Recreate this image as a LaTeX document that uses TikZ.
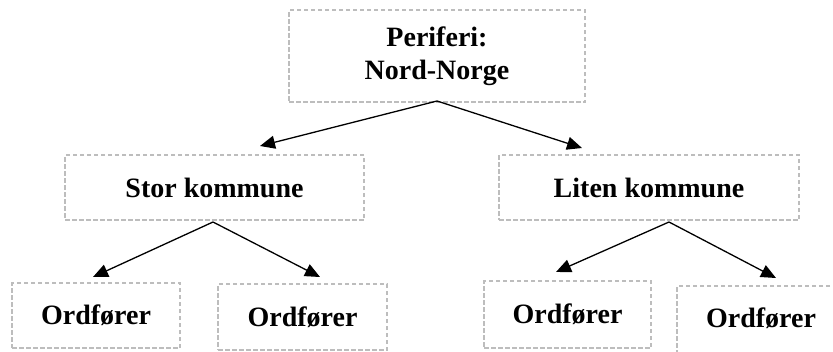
\documentclass[tikz,border=0pt]{standalone}
\usepackage{fontspec}
\setmainfont{Liberation Serif}
\usetikzlibrary{arrows.meta,calc}
\definecolor{boxgray}{HTML}{BDBDBD}
\begin{document}
\begin{tikzpicture}[x=1pt,y=-1pt,
  box/.style={draw=boxgray, line width=1.6pt, dash pattern=on 4.5pt off 2.5pt,
    rectangle, inner sep=0pt, align=center,
    font=\fontsize{28}{33}\selectfont\bfseries},
  link/.style={line width=1.3pt, -{Triangle[length=15pt,width=13pt]}}]
\useasboundingbox (0,0) rectangle (833,351);
\clip (0,0) rectangle (833,351);
\node[box, minimum width=296pt, minimum height=92pt] (top) at (437,56) {Periferi:\\Nord-Norge};
\node[box, minimum width=299pt, minimum height=65pt] (stor) at (214.5,187.5) {Stor kommune};
\node[box, minimum width=300pt, minimum height=65pt] (liten) at (649,187.5) {Liten kommune};
\node[box, minimum width=168pt, minimum height=65pt] (o1) at (96,315.5) {Ordfører};
\node[box, minimum width=169pt, minimum height=66pt] (o2) at (302.5,317) {Ordfører};
\node[box, minimum width=167pt, minimum height=67pt] (o3) at (567.5,314.5) {Ordfører};
\node[box, minimum width=168pt, minimum height=76pt] (o4) at (761,324) {\raisebox{6pt}[\height][\depth]{Ordfører}};
\coordinate (ts) at (437,101);
\coordinate (t1) at (260,146);
\coordinate (t2) at (582,148);
\coordinate (ss) at (213,222);
\coordinate (s1) at (93,277);
\coordinate (s2) at (320,277);
\coordinate (ls) at (669,222);
\coordinate (l1) at (556,272);
\coordinate (l2) at (776,278);
\draw[link] (ts) -- (t1);
\draw[link] (ts) -- (t2);
\draw[link] (ss) -- (s1);
\draw[link] (ss) -- (s2);
\draw[link] (ls) -- (l1);
\draw[link] (ls) -- (l2);
\end{tikzpicture}
\end{document}
